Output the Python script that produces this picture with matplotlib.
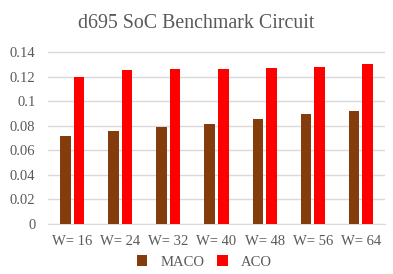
import matplotlib
matplotlib.use("Agg")
import matplotlib.pyplot as plt
import numpy as np

categories = ["W= 16", "W= 24", "W= 32", "W= 40", "W= 48", "W= 56", "W= 64"]
maco = [0.0716, 0.0757, 0.079, 0.0814, 0.0855, 0.0896, 0.092]
aco = [0.1198, 0.1255, 0.1263, 0.1263, 0.1271, 0.128, 0.1304]

plt.rcParams['font.family'] = ['Liberation Serif', 'DejaVu Serif']
text_color = '#595959'

fig = plt.figure(figsize=(3.93, 2.74), dpi=100)
ax = fig.add_axes([48 / 393, 1 - 223.7 / 274, 337 / 393, 171.4 / 274 * 0.16 / 0.14])

x = np.arange(len(categories))
w = 0.22
ax.bar(x - 0.14, maco, width=w, color='#843C0C', label='MACO', zorder=3)
ax.bar(x + 0.14, aco, width=w, color='#FF0000', label='ACO', zorder=3)

ax.set_xlim(-0.5, len(categories) - 0.5)
ax.set_ylim(0, 0.16)
ax.set_yticks([0, 0.02, 0.04, 0.06, 0.08, 0.1, 0.12, 0.14])
ax.set_yticklabels(['0', '0.02', '0.04', '0.06', '0.08', '0.1', '0.12', '0.14'])
ax.set_xticks(x)
ax.set_xticklabels(categories)
ax.tick_params(axis='both', length=0, labelsize=10.5, colors=text_color)
ax.tick_params(axis='y', pad=9)
ax.tick_params(axis='x', pad=8)

ax.grid(axis='y', color='#D9D9D9', linewidth=1, zorder=0)
for s in ['top', 'right', 'left']:
    ax.spines[s].set_visible(False)
ax.spines['bottom'].set_color('#D9D9D9')

fig.text(0.5, 1 - 23 / 274, 'd695 SoC Benchmark Circuit', ha='center', va='center',
         fontsize=14.3, color=text_color)

fig.legend(loc='center', bbox_to_anchor=(0.52, 1 - 262 / 274), ncol=2, frameon=False,
           fontsize=10.5, labelcolor=text_color, handlelength=0.7, handleheight=0.7,
           columnspacing=0.9, handletextpad=0.9)

fig.savefig('out.png', dpi=100)
